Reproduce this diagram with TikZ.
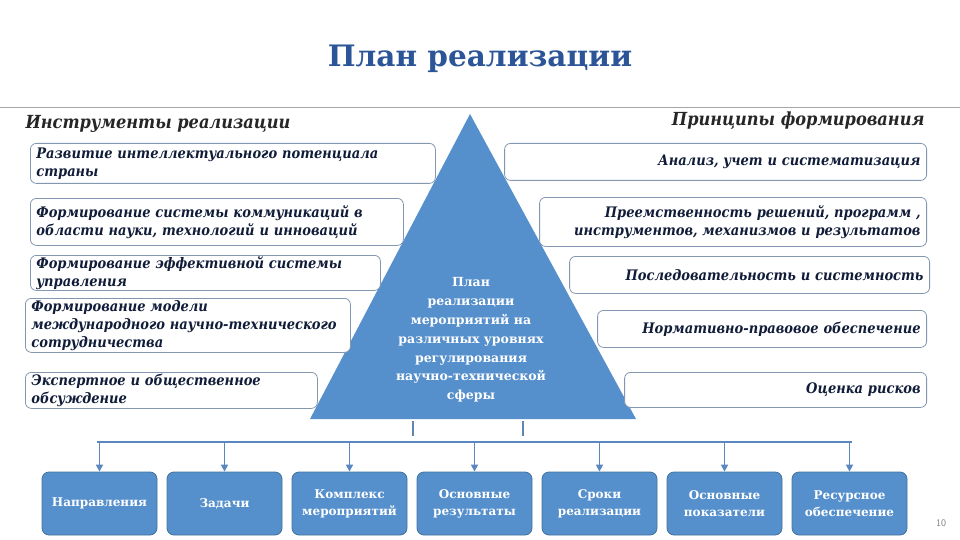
\documentclass[tikz,border=0pt]{standalone}
\usepackage{fontspec}
\setmainfont{DejaVu Serif}
\newfontfamily\condfont{DejaVu Serif Condensed}
\usetikzlibrary{arrows.meta,positioning}
\definecolor{titleblue}{HTML}{2B5597}
\definecolor{navy}{HTML}{101C38}
\definecolor{boxline}{HTML}{8497B0}
\definecolor{pyrblue}{HTML}{5690CC}
\definecolor{pyrline}{HTML}{41719C}
\definecolor{busline}{HTML}{5A87BF}
\begin{document}
\begin{tikzpicture}
[x=1pt,y=-1pt,
lbox/.style={draw=boxline,line width=0.8pt,rounded corners=6pt,fill=white,anchor=north west,inner xsep=6pt,inner ysep=1pt,align=left,text=navy,font=\condfont\fontsize{14.5}{18}\selectfont\bfseries\itshape},
rbox/.style={lbox,anchor=north east,align=right},
bbox/.style={draw=pyrline,line width=0.8pt,fill=pyrblue,rounded corners=7pt,minimum width=115pt,minimum height=63pt,text width=105pt,align=center,text=white,font=\fontsize{12}{17}\selectfont\bfseries},
head/.style={font=\condfont\fontsize{18}{20}\selectfont\bfseries\itshape,text=black!85},
arr/.style={draw=busline,line width=1.6pt,-{Triangle[length=7pt,width=7pt]}}]
\useasboundingbox (0,0) rectangle (960,540);
\node[anchor=base,font=\fontsize{29.5}{34}\selectfont\bfseries,text=titleblue] (title) at (480,67) {План реализации};
\draw[gray!70,line width=0.8pt] (0,107) -- (960,107);
% pyramid
\coordinate (apex) at (470,114);
\coordinate (baseL) at (310,419);
\coordinate (baseR) at (636,419);
\fill[pyrblue] (apex) -- (baseR) -- (baseL) -- cycle;
\node[align=center,text=white,font=\fontsize{12.5}{18.8}\selectfont\bfseries] (plan) at (471,340) {План\\реализации\\мероприятий на\\различных уровнях\\регулирования\\научно-технической\\сферы};
% left column
\node[head,anchor=base west] (insthead) at (22,129) {Инструменты реализации};
\node[lbox,text width=393pt,minimum height=40pt] (inst1) at (30,143) {Развитие интеллектуального потенциала\\страны};
\node[lbox,text width=361pt,minimum height=47pt] (inst2) at (30,198) {Формирование системы коммуникаций в\\области науки, технологий и инноваций};
\node[lbox,text width=338pt,minimum height=34pt] (inst3) at (30,255) {Формирование  эффективной системы\\управления};
\node[lbox,text width=313pt,minimum height=54pt] (inst4) at (25,298) {Формирование модели\\международного научно-технического\\сотрудничества};
\node[lbox,text width=280pt,minimum height=36pt] (inst5) at (25,372) {Экспертное и общественное\\обсуждение};
% right column
\node[head,anchor=base east] (prinhead) at (928,126) {Принципы формирования};
\node[rbox,text width=410pt,minimum height=37pt] (prin1) at (927,143) {Анализ, учет  и систематизация};
\node[rbox,text width=375pt,minimum height=49pt] (prin2) at (927,197) {Преемственность решений, программ ,\\инструментов, механизмов и  результатов};
\node[rbox,text width=348pt,minimum height=37pt] (prin3) at (930,256) {Последовательность и системность};
\node[rbox,text width=317pt,minimum height=37pt] (prin4) at (927,310) {Нормативно-правовое  обеспечение};
\node[rbox,text width=290pt,minimum height=35pt] (prin5) at (927,372) {Оценка рисков};
% bottom row
\coordinate (stubA) at (413,421);
\coordinate (stubB) at (523,421);
\draw[busline!80!gray,line width=1.2pt] (stubA) -- ++(0,15) (stubB) -- ++(0,15);
\foreach \txt [count=\i from 0] in {Направления,Задачи,Комплекс\\мероприятий,Основные\\результаты,Сроки\\реализации,Основные\\показатели,Ресурсное\\обеспечение}
  \node[bbox] (out\i) at (99.5+125*\i,503.5) {\txt};
\coordinate (busL) at (97,442);
\coordinate (busR) at (852,442);
\draw[busline,line width=1.6pt] (busL) -- (busR);
\foreach \i in {0,...,6}
  \draw[arr] (out\i.north |- busL) -- (out\i.north);
\node[font=\sffamily\fontsize{10}{12}\selectfont,text=gray] (pagenum) at (941,523) {10};
\end{tikzpicture}
\end{document}
